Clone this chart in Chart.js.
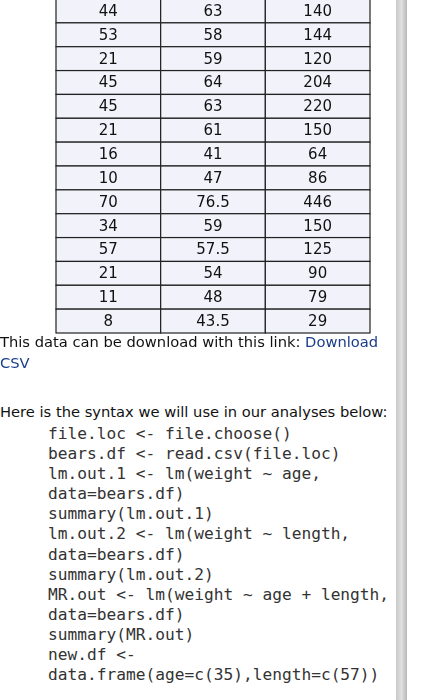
<!DOCTYPE html>
<html><head><meta charset="utf-8">
<script src="https://cdn.jsdelivr.net/npm/chart.js@4"></script>
<style>
body{margin:0;width:424px;height:700px;overflow:hidden;background:#fff;font-family:"DejaVu Sans",Verdana,sans-serif;position:relative}
#wrap{position:absolute;left:0;top:-2px;width:424px;height:336px}
.txt{position:absolute;left:0;font-size:14.7px;color:#111;line-height:21px;white-space:nowrap}
.code{position:absolute;left:48px;font-family:"DejaVu Sans Mono",monospace;font-size:16.2px;color:#333;line-height:20.1px;white-space:pre}
a{color:#1a3c8a;text-decoration:none}
#bar{position:absolute;left:396px;top:0;width:11px;height:700px;background:linear-gradient(90deg,#c8c8c8,#e0e0e0,#b8b8b8)}
</style></head><body>
<div id="wrap"><canvas id="c"></canvas></div>
<div class="txt" style="top:331px">This data can be download with this link: <a>Download</a><br><a>CSV</a></div>
<div class="txt" style="top:401px">Here is the syntax we will use in our analyses below:</div>
<div class="code" style="top:424px">file.loc &lt;- file.choose()
bears.df &lt;- read.csv(file.loc)
lm.out.1 &lt;- lm(weight ~ age,
data=bears.df)
summary(lm.out.1)
lm.out.2 &lt;- lm(weight ~ length,
data=bears.df)
summary(lm.out.2)
MR.out &lt;- lm(weight ~ age + length,
data=bears.df)
summary(MR.out)
new.df &lt;-
data.frame(age=c(35),length=c(57))</div>
<div id="bar"></div>
<script>
const age = [44,53,21,45,45,21,16,10,70,34,57,21,11,8];
const length = [63,58,59,64,63,61,41,47,76.5,59,57.5,54,48,43.5];
const weight = [140,144,120,204,220,150,64,86,446,150,125,90,79,29];
const columns = [age, length, weight];

const tablePlugin = {
  id: 'table',
  afterDatasetsDraw(chart) {
    const {ctx, scales: {x, y}} = chart;
    ctx.save();
    for (let r = 0; r < age.length; r++) {
      const y0 = y.getPixelForValue(r), y1 = y.getPixelForValue(r + 1);
      for (let c = 0; c < columns.length; c++) {
        const x0 = x.getPixelForValue(c), x1 = x.getPixelForValue(c + 1);
        ctx.fillStyle = '#f2f2fb';
        ctx.fillRect(x0, y0, x1 - x0, y1 - y0);
        ctx.strokeStyle = '#222';
        ctx.lineWidth = 1.2;
        ctx.strokeRect(x0, y0, x1 - x0, y1 - y0);
        ctx.fillStyle = '#111';
        ctx.font = '15px "DejaVu Sans"';
        ctx.textAlign = 'center';
        ctx.textBaseline = 'middle';
        ctx.fillText(String(columns[c][r]), (x0 + x1) / 2, (y0 + y1) / 2 + 1);
      }
    }
    ctx.restore();
  }
};

new Chart(document.getElementById('c'), {
  type: 'scatter',
  data: { datasets: [{ data: [] }] },
  plugins: [tablePlugin],
  options: {
    responsive: true, maintainAspectRatio: false, animation: false,
    layout: { padding: { left: 56, right: 54, top: 1, bottom: 1 } },
    plugins: { legend: { display: false }, tooltip: { enabled: false } },
    scales: {
      x: { type: 'linear', min: 0, max: 3, display: false },
      y: { type: 'linear', min: 0, max: 14, reverse: true, display: false }
    }
  }
});
</script>
</body></html>
